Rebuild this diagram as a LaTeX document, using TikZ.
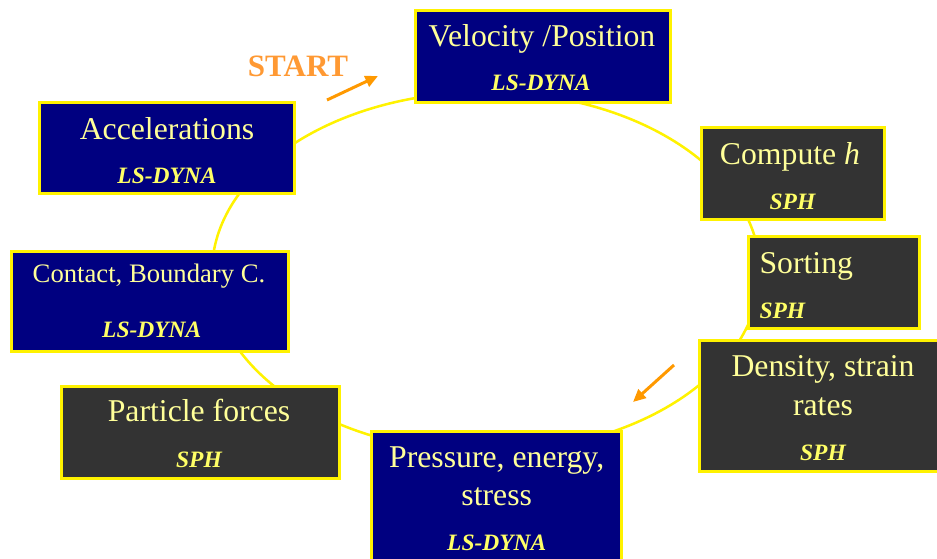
\documentclass[tikz,border=0pt]{standalone}
\usepackage{fontspec}
\setmainfont{Liberation Serif}
\usetikzlibrary{fit,arrows.meta}
\definecolor{navy}{RGB}{0,0,128}
\definecolor{slate}{RGB}{51,51,51}
\definecolor{paleyel}{RGB}{255,255,153}
\definecolor{tagyel}{RGB}{255,255,102}
\definecolor{startor}{RGB}{255,153,51}
\definecolor{arror}{RGB}{255,153,0}
\tikzset{
	sbox/.style={draw=yellow,line width=2.25pt,fill=#1,inner sep=0pt},
	txt/.style={text=paleyel,inner sep=0pt,anchor=base,font=\fontsize{23.8}{28}\selectfont},
	tag/.style={text=tagyel,inner sep=0pt,anchor=base,font=\fontsize{17.6}{21}\selectfont\bfseries\itshape},
	startarrow/.style={draw=arror,line width=2.25pt,-{Triangle[length=9.5pt,width=8.5pt]}}
}
\begin{document}
\begin{tikzpicture}[x=0.75pt,y=-0.75pt]
	\useasboundingbox (0,0) rectangle (937,558);
	\draw[yellow,line width=1.9pt] (486,272) ellipse [x radius=274,y radius=180];

	\node[sbox=navy,fit={(415,10)(670,102)}] (vel) {};
	\node[sbox=navy,fit={(39.5,102)(294.5,193.5)}] (acc) {};
	\node[sbox=slate,fit={(701,127.5)(884.5,219.5)}] (comp) {};
	\node[sbox=slate,fit={(748,236.5)(919,328.5)}] (sort) {};
	\node[sbox=slate,fit={(699,340.5)(945,471)}] (dens) {};
	\node[sbox=navy,fit={(371.5,431)(621,570)}] (pres) {};
	\node[sbox=slate,fit={(61,386)(339,478)}] (part) {};
	\node[sbox=navy,fit={(11.5,251)(288,351)}] (cont) {};

	\node[txt] (velA) at (542,46.7) {Velocity /Position};
	\node[tag] (velB) at (541,90) {LS-DYNA};
	\node[txt] (accA) at (167,139.3) {Accelerations};
	\node[tag] (accB) at (167,183.3) {LS-DYNA};
	\node[txt] (compA) at (790,164.3) {Compute \textit{h}};
	\node[tag] (compB) at (792.5,209.3) {SPH};
	\node[txt,anchor=base west] (sortA) at (759.3,273.3) {Sorting};
	\node[tag,anchor=base west] (sortB) at (759.3,318.3) {SPH};
	\node[txt] (densA) at (823,376.7) {Density, strain};
	\node[txt] (densB) at (823,415) {rates};
	\node[tag] (densC) at (823,460) {SPH};
	\node[txt] (presA) at (496.7,467.3) {Pressure, energy,};
	\node[txt] (presB) at (496.7,505) {stress};
	\node[tag] (presC) at (496.7,550) {LS-DYNA};
	\node[txt] (partA) at (199,421.7) {Particle forces};
	\node[tag] (partB) at (199,467.7) {SPH};
	\node[txt,font=\fontsize{20}{24}\selectfont] (contA) at (149,282.7) {Contact, Boundary C.};
	\node[tag] (contB) at (151.7,337.7) {LS-DYNA};

	\node[text=startor,inner sep=0pt,anchor=base,font=\fontsize{23.3}{28}\selectfont\bfseries] (start) at (298,76) {START};
	\coordinate (s0) at (327,100);
	\coordinate (s1) at (378,76);
	\coordinate (d0) at (674,365);
	\coordinate (d1) at (633,402);
	\draw[startarrow] (s0) -- (s1);
	\draw[startarrow] (d0) -- (d1);
\end{tikzpicture}
\end{document}
